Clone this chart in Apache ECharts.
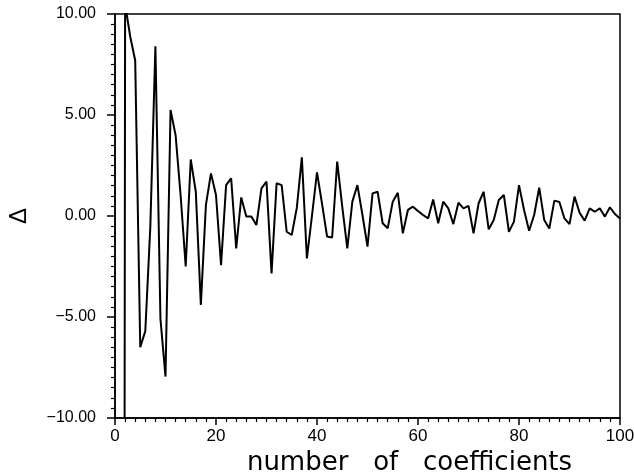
<!DOCTYPE html>
<html lang="en">
<head>
    <meta charset="UTF-8" />
    <title>Delta vs number of coefficients</title>
    <script src="https://cdn.jsdelivr.net/npm/echarts@6/dist/echarts.min.js"></script>
    <style>
        body { margin: 0; background: #fff; }
    </style>
</head>
<body>
    <div id="chart" style="width: 634px; height: 472px"></div>
    <script>
        // number of coefficients (x)
        var coeffs = [];
        for (var k = 1; k <= 100; k++) coeffs.push(k);

        // delta values, one per coefficient from 1 to 100
        var deltas = [
            -200, 10.5, 8.9, 7.7, -6.5, -5.7, -0.5, 8.4, -5.1, -7.95, // 1-10
            5.25, 4.0, 1.0, -2.5, 2.8, 1.2, -4.4, 0.54, 2.11, 1.04,  // 11-20
            -2.43, 1.53, 1.86, -1.6, 0.92, -0.03, -0.03, -0.45, 1.37, 1.7, // 21-30
            -2.84, 1.62, 1.53, -0.78, -0.94, 0.4, 2.9, -2.1, 0.0, 2.16,   // 31-40
            0.6, -1.02, -1.06, 2.69, 0.46, -1.6, 0.71, 1.53, 0.05, -1.52, // 41-50
            1.12, 1.2, -0.36, -0.61, 0.71, 1.15, -0.86, 0.3, 0.46, 0.25,  // 51-60
            0.05, -0.12, 0.82, -0.36, 0.71, 0.38, -0.4, 0.66, 0.38, 0.5,  // 61-70
            -0.86, 0.63, 1.2, -0.66, -0.2, 0.79, 1.04, -0.78, -0.28, 1.53, // 71-80
            0.3, -0.73, 0.05, 1.4, -0.2, -0.62, 0.76, 0.69, -0.12, -0.4,  // 81-90
            0.96, 0.16, -0.23, 0.38, 0.21, 0.38, -0.03, 0.43, 0.1, -0.12  // 91-100
        ];

        var xTicks = [0, 20, 40, 60, 80, 100];
        var yTicks = [-10, -5, 0, 5, 10];

        var points = [];
        for (var i = 0; i < coeffs.length; i++) {
            points.push([coeffs[i], deltas[i]]);
        }

        var chart = echarts.init(document.getElementById("chart"));

        var labelFont = "Liberation Sans";

        var option = {
            backgroundColor: "#fff",
            animation: false,
            grid: {
                left: 115,
                right: 14,
                top: 14,
                bottom: 54,
                outerBoundsMode: "none",
                containLabel: false,
                show: true,
                borderColor: "#000",
                borderWidth: 1.5,
            },
            xAxis: {
                type: "value",
                min: xTicks[0],
                max: xTicks[xTicks.length - 1],
                interval: 20,
                name: "number   of   coefficients",
                nameLocation: "middle",
                nameGap: 30,
                nameTextStyle: {
                    fontFamily: "DejaVu Sans",
                    fontSize: 26,
                    color: "#000",
                    padding: [0, 0, 0, 84],
                },
                axisLine: { show: true, onZero: false, lineStyle: { color: "#000", width: 1.5 } },
                axisTick: { show: true, inside: false, length: 7, lineStyle: { color: "#000", width: 1.5 } },
                minorTick: { show: true, splitNumber: 10, length: 4, lineStyle: { color: "#000", width: 1.2 } },
                axisLabel: { fontFamily: labelFont, fontSize: 17, color: "#000", margin: 10 },
                splitLine: { show: false },
            },
            yAxis: {
                type: "value",
                min: yTicks[0],
                max: yTicks[yTicks.length - 1],
                interval: 5,
                name: "Δ",
                nameLocation: "middle",
                nameGap: 84,
                nameTextStyle: { fontFamily: labelFont, fontSize: 24, color: "#000" },
                axisLine: { show: true, onZero: false, lineStyle: { color: "#000", width: 1.5 } },
                axisTick: { show: true, inside: false, length: 8, lineStyle: { color: "#000", width: 1.5 } },
                minorTick: { show: true, splitNumber: 10, length: 4, lineStyle: { color: "#000", width: 1.2 } },
                axisLabel: {
                    fontFamily: labelFont,
                    fontSize: 16,
                    color: "#000",
                    margin: 19,
                    formatter: function (v) {
                        var s = Math.abs(v).toFixed(2);
                        return v < 0 ? "\u2212" + s : s;
                    },
                },
                splitLine: { show: false },
            },
            series: [
                {
                    type: "line",
                    data: points,
                    showSymbol: false,
                    clip: true,
                    lineStyle: { color: "#000", width: 2 },
                },
            ],
        };
        chart.setOption(option);
    </script>
</body>
</html>
